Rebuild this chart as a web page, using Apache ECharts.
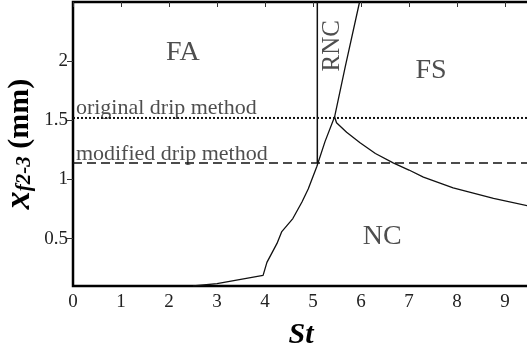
<!DOCTYPE html>
<html><head><meta charset="utf-8">
<script src="https://cdn.jsdelivr.net/npm/echarts@6/dist/echarts.min.js"></script>
<style>html,body{margin:0;padding:0;background:#fff}#c{width:527px;height:348px}</style>
</head><body><div id="c"></div>
<script>
const xTicks = [0,1,2,3,4,5,6,7,8,9];
const yTicks = [0.5,1,1.5,2];
const boundaryA = [[2.5,0.1],[3.0,0.12],[3.96,0.19],[4.04,0.30],[4.25,0.46],[4.35,0.56],[4.58,0.67],[4.77,0.81],[4.9,0.92],[5.08,1.11],[5.25,1.32],[5.45,1.53],[5.67,1.95],[5.97,2.5]];
const boundaryB = [[5.45,1.53],[5.49,1.48],[5.7,1.40],[5.98,1.31],[6.3,1.22],[6.67,1.14],[7.0,1.08],[7.3,1.02],[7.92,0.93],[8.3,0.89],[8.76,0.84],[9.5,0.775]];
const rncLine = [[5.09,1.14],[5.09,2.5]];
const originalLevel = 1.52;
const modifiedLevel = 1.14;
const xRange = [0, 9.5];
const yRange = [0.1, 2.5];
const regionLabels = [
  {name:'FA', x:2.29, y:2.07},
  {name:'FS', x:7.46, y:1.92},
  {name:'NC', x:6.44, y:0.52}
];
const rncLabel = {name:'RNC', x:5.4, y:2.13};
const methodLabels = [
  {name:'original drip method', x:0.06, y:1.605},
  {name:'modified drip method', x:0.06, y:1.215}
];

const serif = 'Liberation Serif';
const chart = echarts.init(document.getElementById('c'));
const lineStyleBase = {color:'#111', width:1.3};
chart.setOption({
  animation:false,
  grid:{left:73,right:-2,top:2,bottom:62,show:true,borderColor:'#000',borderWidth:2.5,outerBoundsMode:'none',containLabel:false},
  xAxis:[{type:'value',min:xRange[0],max:xRange[1],
    axisLine:{show:false},splitLine:{show:false},
    axisTick:{show:false},
    axisLabel:{fontFamily:serif,fontSize:19,color:'#222',margin:7,customValues:xTicks},
    name:'St',nameLocation:'middle',nameGap:34,
    nameTextStyle:{fontFamily:serif,fontSize:30,fontWeight:'bold',fontStyle:'italic',color:'#000'}},
    {type:'value',position:'top',min:xRange[0],max:xRange[1],
    axisLine:{show:false},splitLine:{show:false},axisLabel:{show:false},
    axisTick:{show:true,inside:true,length:5,lineStyle:{color:'#333'},customValues:xTicks}}],
  yAxis:[{type:'value',min:yRange[0],max:yRange[1],
    axisLine:{show:false},splitLine:{show:false},
    axisTick:{show:true,inside:false,length:3,lineStyle:{color:'#333'},customValues:yTicks},
    axisLabel:{fontFamily:serif,fontSize:19,color:'#222',margin:5,customValues:yTicks},
    name:'{x|x}{s|f2-3}{m| (mm)}',nameLocation:'middle',nameGap:38,nameRotate:90,nameMoveOverlap:false,
    nameTextStyle:{lineHeight:30,rich:{
      x:{fontFamily:serif,fontSize:36,fontWeight:'bold',fontStyle:'italic',color:'#000',lineHeight:30},
      s:{fontFamily:serif,fontSize:21,fontWeight:'bold',fontStyle:'italic',color:'#000',verticalAlign:'bottom',lineHeight:30,padding:[14,0,0,0]},
      m:{fontFamily:serif,fontSize:30,fontWeight:'bold',color:'#000',lineHeight:30}}}},
    {type:'value',position:'right',min:yRange[0],max:yRange[1],
    axisLine:{show:false},splitLine:{show:false},axisLabel:{show:false},
    axisTick:{show:true,inside:true,length:6,lineStyle:{color:'#333'},customValues:yTicks}}],
  series:[
    {type:'line',data:boundaryA,showSymbol:false,lineStyle:lineStyleBase,z:5},
    {type:'line',data:boundaryB,showSymbol:false,lineStyle:lineStyleBase,z:5},
    {type:'line',data:rncLine,showSymbol:false,lineStyle:{color:'#111',width:1.5},z:4},
    {type:'line',data:[[xRange[0],originalLevel],[xRange[1],originalLevel]],showSymbol:false,
      lineStyle:{color:'#111',width:2,type:[2,2]},z:4},
    {type:'line',data:[[xRange[0],modifiedLevel],[xRange[1],modifiedLevel]],showSymbol:false,
      lineStyle:{color:'#111',width:1.6,type:[9,5]},z:4},
    {type:'scatter',symbolSize:0,data:regionLabels.map(d=>({name:d.name,value:[d.x,d.y]})),
      label:{show:true,position:'inside',formatter:'{b}',fontFamily:serif,fontSize:28,color:'#222'},z:6},
    {type:'scatter',symbolSize:0,data:[{name:rncLabel.name,value:[rncLabel.x,rncLabel.y]}],
      label:{show:true,position:'inside',rotate:90,formatter:'{b}',fontFamily:serif,fontSize:25,color:'#222'},z:6},
    {type:'scatter',symbolSize:0,data:methodLabels.map(d=>({name:d.name,value:[d.x,d.y]})),
      label:{show:true,position:'right',distance:0,formatter:'{b}',fontFamily:serif,fontSize:22,color:'#222'},z:6}
  ]
});
</script></body></html>
